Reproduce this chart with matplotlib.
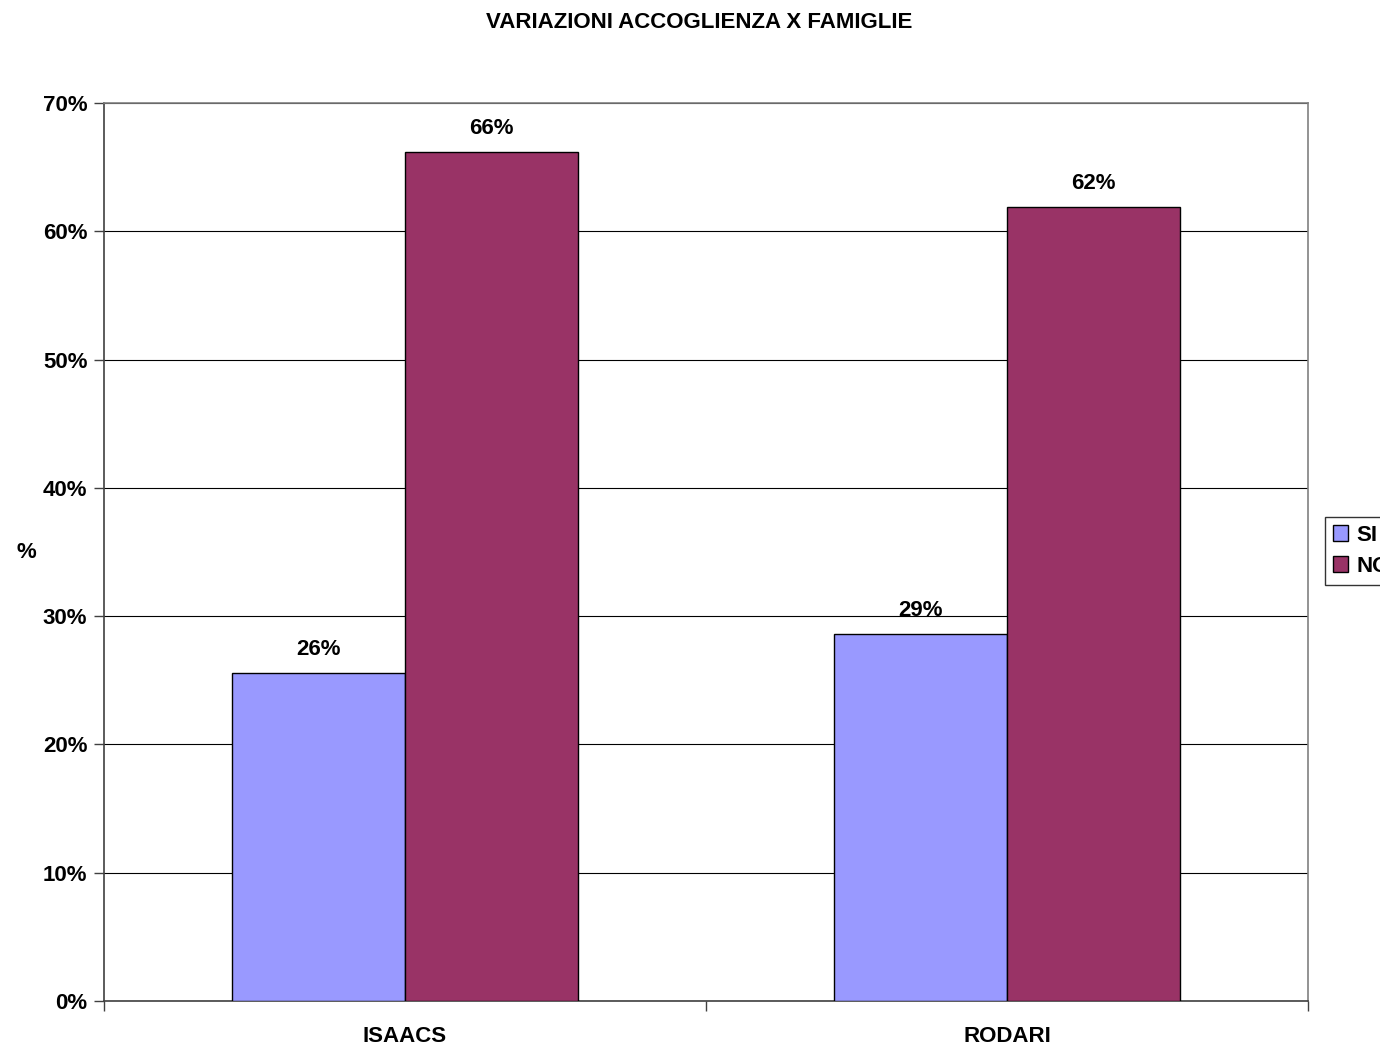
import matplotlib
matplotlib.use("Agg")
import matplotlib.pyplot as plt
import numpy as np

categories = ["ISAACS", "RODARI"]
series_names = ["SI", "NO"]
si_values = [25.6, 28.6]
no_values = [66.2, 61.9]
yticks = [0, 10, 20, 30, 40, 50, 60, 70]

plt.rcParams['font.family'] = ['Liberation Sans', 'DejaVu Sans']
plt.rcParams['font.weight'] = 'bold'

FS = 16

fig = plt.figure(figsize=(13.8, 10.5), dpi=100)
ax = fig.add_axes([104/1380, 49/1050, (1308-104)/1380, (1001-103)/1050])

x = np.arange(len(categories))
w = 0.287
b1 = ax.bar(x - w/2, si_values, w, color="#9999FF", edgecolor="black", linewidth=1.0, label=series_names[0], zorder=3)
b2 = ax.bar(x + w/2, no_values, w, color="#993366", edgecolor="black", linewidth=1.0, label=series_names[1], zorder=3)

for bars, vals in ((b1, si_values), (b2, no_values)):
    for rect, v in zip(bars, vals):
        ax.text(rect.get_x() + rect.get_width()/2, v + 1.0, f"{v:.0f}%", ha="center", va="bottom",
                fontsize=FS, fontweight="bold", zorder=4)

ax.set_xlim(-0.5, len(categories) - 0.5)
ax.set_ylim(0, 70)
ax.set_yticks(yticks)
ax.set_yticklabels([f"{t}%" for t in yticks], fontsize=FS, fontweight="bold")
ax.yaxis.grid(True, color="black", linewidth=0.8, zorder=0)
ax.set_axisbelow(True)

ax.set_xticks(x)
ax.set_xticklabels(categories, fontsize=FS, fontweight="bold")
ax.tick_params(axis="x", which="major", length=0, pad=18)
ax.set_xticks(np.arange(-0.5, len(categories), 1.0), minor=True)
ax.tick_params(axis="x", which="minor", length=7, color="#404040", width=1)
ax.tick_params(axis="y", which="major", length=7, color="#404040", width=1, pad=5)

for side in ["top", "right"]:
    ax.spines[side].set_color("#808080")
for side in ["left", "bottom"]:
    ax.spines[side].set_color("#404040")
for s in ax.spines.values():
    s.set_linewidth(1.2)

fig.text(699/1380, 1 - 22/1050, "VARIAZIONI ACCOGLIENZA X FAMIGLIE", ha="center", va="center",
         fontsize=FS, fontweight="bold")
fig.text(26/1380, 1 - 553/1050, "%", ha="center", va="center", fontsize=FS, fontweight="bold")

leg = fig.legend(loc="upper left", bbox_to_anchor=(1325/1380, 1 - 517/1050), frameon=True,
                 fontsize=FS, handlelength=0.7, handleheight=0.7, handletextpad=0.35,
                 borderpad=0.35, labelspacing=0.45, fancybox=False, borderaxespad=0)
leg.get_frame().set_edgecolor("black")
leg.get_frame().set_linewidth(1.0)
for t in leg.get_texts():
    t.set_fontweight("bold")

fig.savefig("out.png", dpi=100)
